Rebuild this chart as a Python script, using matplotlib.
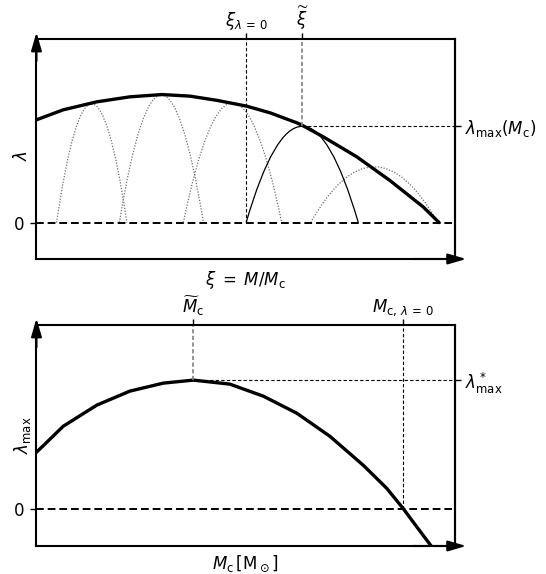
import matplotlib
matplotlib.use("Agg")
import matplotlib.pyplot as plt
from matplotlib.path import Path
from matplotlib.patches import PathPatch

# upper panel: envelope of the growth-rate curves, lambda(xi)
env_xi = [0.0, 0.64, 1.44, 2.23, 3.0, 3.67, 4.31, 5.02, 5.58, 6.22, 6.35, 6.85, 7.65, 8.45, 9.24, 9.62]
env_lam = [1.03, 1.13, 1.21, 1.26, 1.283, 1.267, 1.225, 1.167, 1.10, 1.0, 0.975, 0.86, 0.66, 0.42, 0.157, 0.0]

# single dispersion curves (roots and maximum), drawn dotted
arch_left = [0.48, 1.98, 3.51, 6.55]
arch_right = [2.16, 3.99, 5.86, 9.59]
arch_peak = [1.19, 1.28, 1.20, 0.56]

# the highlighted curve for one core mass
hl_left, hl_right, hl_peak = 5.01, 7.69, 0.965

xi_zero = 5.01
xi_tilde = 6.35
lam_mc = 0.965

# lower panel: lambda_max(M_c)
mc = [0.0, 0.64, 1.44, 2.23, 3.03, 3.75, 4.62, 5.42, 6.22, 7.01, 7.81, 8.37, 8.76, 9.08, 9.44]
lam_max = [0.57, 0.83, 1.04, 1.18, 1.26, 1.29, 1.25, 1.13, 0.96, 0.73, 0.44, 0.21, 0.01, -0.17, -0.37]

mc_tilde = 3.75
lam_star = 1.29
mc_zero = 8.75

XLIM = (0, 10)
YLIM = (-0.365, 1.84)
FS = 12


def arch(ax, x0, x1, peak, **kw):
    # quadratic bezier: apex sits at (mid, peak)
    xm = 0.5 * (x0 + x1)
    p = Path([(x0, 0), (xm, 2 * peak), (x1, 0)],
             [Path.MOVETO, Path.CURVE3, Path.CURVE3])
    ax.add_patch(PathPatch(p, fill=False, **kw))


def frame(ax):
    ax.set_xlim(*XLIM)
    ax.set_ylim(*YLIM)
    for s in ax.spines.values():
        s.set_linewidth(1.5)
    ap = dict(arrowstyle="-|>,head_length=0.55,head_width=0.16",
              mutation_scale=20, lw=1.5, color="k", shrinkA=0, shrinkB=0)
    ax.annotate("", xy=(0, 1.03), xytext=(0, 0.9), xycoords="axes fraction",
                arrowprops=ap, annotation_clip=False)
    ax.annotate("", xy=(1.027, 0), xytext=(0.9, 0), xycoords="axes fraction",
                arrowprops=ap, annotation_clip=False)
    ax.axhline(0, color="k", lw=1.4, ls=(0, (4, 2)), xmax=0.993)
    ax.tick_params(bottom=False, labelbottom=False, top=True, labeltop=True,
                   direction="out", length=4.5, width=1, labelsize=FS, pad=0.5)
    ax.xaxis.set_label_position("bottom")
    ax.set_yticks([0], ["0"])
    ax.tick_params(axis="y", pad=4)


fig = plt.figure(figsize=(5.46, 5.74), dpi=100)
ax1 = fig.add_axes([0.0668, 0.5488, 0.7665, 0.3833])
ax2 = fig.add_axes([0.0668, 0.0488, 0.7665, 0.385])

# --- upper panel ---
frame(ax1)
for x0, x1, pk in zip(arch_left, arch_right, arch_peak):
    arch(ax1, x0, x1, pk, color="#707070", lw=0.9, ls=(0, (1, 1.3)))
arch(ax1, hl_left, hl_right, hl_peak, color="k", lw=0.9)
ax1.plot(env_xi, env_lam, color="k", lw=2.4, solid_capstyle="round", solid_joinstyle="round")

ax1.plot([xi_zero, xi_zero], [0, YLIM[1]], color="k", lw=0.8, ls=(0, (3, 2)))
ax1.plot([xi_tilde, xi_tilde], [lam_mc, YLIM[1]], color="#808080", lw=1.2, ls=(0, (2.5, 1.5)))
ax1.plot([xi_tilde, XLIM[1]], [lam_mc, lam_mc], color="k", lw=0.8, ls=(0, (3, 2)))

ax1.set_xticks([xi_zero, xi_tilde], [r"$\xi_{\lambda\,=\,0}$", r"$\widetilde{\xi}$"])
sec1 = ax1.secondary_yaxis("right")
sec1.set_yticks([lam_mc], [r"$\lambda_\mathrm{max}(M_\mathrm{c})$"])
sec1.tick_params(direction="out", length=4.5, width=1, labelsize=FS, pad=3)
sec1.spines["right"].set_linewidth(1.5)
ax1.set_xlabel(r"$\xi\;=\;M/M_\mathrm{c}$", fontsize=FS, labelpad=7)
ax1.text(-0.034, 0.47, r"$\lambda$", rotation=90, ha="center", va="center",
         fontsize=FS, transform=ax1.transAxes)

# --- lower panel ---
frame(ax2)
ax2.plot(mc, lam_max, color="k", lw=2.4, solid_capstyle="round", solid_joinstyle="round")
ax2.plot([mc_tilde, mc_tilde], [lam_star, YLIM[1]], color="#808080", lw=1.2, ls=(0, (2.5, 1.5)))
ax2.plot([mc_tilde, XLIM[1]], [lam_star, lam_star], color="k", lw=0.8, ls=(0, (3, 2)))
ax2.plot([mc_zero, mc_zero], [0, YLIM[1]], color="k", lw=0.8, ls=(0, (3, 2)))

ax2.set_xticks([mc_tilde, mc_zero], [r"$\widetilde{M}_\mathrm{c}$", r"$M_{\mathrm{c},\,\lambda\,=\,0}$"])
sec2 = ax2.secondary_yaxis("right")
sec2.set_yticks([lam_star], [r"$\lambda^*_\mathrm{max}$"])
sec2.tick_params(direction="out", length=4.5, width=1, labelsize=FS, pad=3)
sec2.spines["right"].set_linewidth(1.5)
ax2.set_xlabel(r"$M_\mathrm{c}\,[\mathrm{M}_\odot]$", fontsize=FS, labelpad=5.5)
ax2.text(-0.033, 0.5, r"$\lambda_\mathrm{max}$", rotation=90, ha="center", va="center",
         fontsize=FS, transform=ax2.transAxes)

fig.savefig("out.png", dpi=100)
